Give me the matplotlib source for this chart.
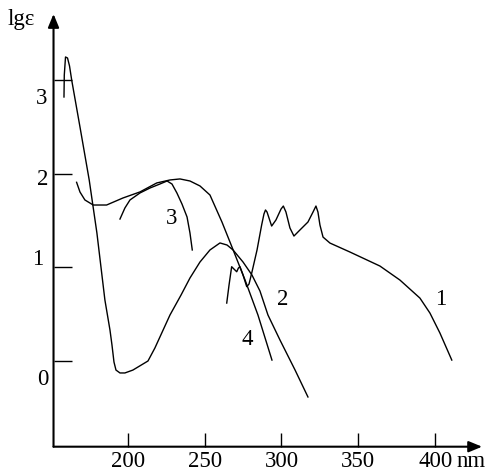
import numpy as np
import matplotlib.pyplot as plt

plt.rcParams['font.family'] = ['Liberation Serif', 'DejaVu Serif']

# curve 1: fine structure band, runs out to ~410 nm
c1_nm = [264.4, 265.9, 267.6, 269.1, 270.9, 272.0, 273.0, 275.0, 277.4, 278.9,
         280.8, 284.1, 287.1, 288.6, 289.6, 290.6, 293.6, 296.4, 299.7, 301.2,
         302.9, 305.5, 308.1, 312.0, 317.2, 320.5, 322.4, 323.7, 325.0, 327.0,
         331.5, 344.5, 364.0, 377.0, 390.0, 396.5, 403.0, 410.7]
c1_lg = [0.617, 0.810, 1.006, 0.981, 0.952, 0.992, 1.006, 0.917, 0.792, 0.821,
         0.949, 1.185, 1.452, 1.570, 1.613, 1.591, 1.441, 1.506, 1.623, 1.655,
         1.591, 1.420, 1.334, 1.399, 1.484, 1.591, 1.655, 1.591, 1.452, 1.323,
         1.259, 1.163, 1.013, 0.863, 0.670, 0.510, 0.296, 0.007]

# curve 2: strong far-UV peak, deep minimum, broad hump
c2_nm = [158.6, 158.8, 159.6, 160.9, 162.2, 163.6, 169.0, 175.0, 180.0, 185.2,
         188.5, 189.8, 191.1, 192.4, 195.0, 198.2, 203.4, 213.2, 217.7, 227.5,
         234.7, 240.5, 247.0, 253.5, 260.0, 264.6, 268.5, 275.0, 280.8, 286.0,
         291.2, 299.0, 308.8, 317.2]
c2_lg = [2.822, 3.057, 3.250, 3.239, 3.154, 3.004, 2.501, 1.934, 1.367, 0.650,
         0.328, 0.168, -0.014, -0.100, -0.131, -0.131, -0.100, -0.003, 0.136, 0.489,
         0.703, 0.885, 1.056, 1.185, 1.260, 1.238, 1.185, 1.056, 0.917, 0.746,
         0.489, 0.222, -0.099, -0.388]

# curve 3
c3_nm = [195.0, 198.2, 201.5, 208.0, 214.5, 221.0, 225.6, 228.8, 232.0, 235.3,
         238.6, 240.5, 242.0]
c3_lg = [1.516, 1.634, 1.720, 1.795, 1.848, 1.891, 1.923, 1.891, 1.795, 1.677,
         1.538, 1.367, 1.185]

# curve 4
c4_nm = [166.8, 169.0, 172.2, 177.6, 186.3, 196.9, 208.0, 218.9, 227.5, 234.0,
         240.5, 247.0, 253.5, 261.3, 267.8, 276.3, 284.7, 293.8]
c4_lg = [1.909, 1.805, 1.720, 1.666, 1.666, 1.741, 1.806, 1.902, 1.934, 1.945,
         1.923, 1.870, 1.773, 1.484, 1.217, 0.864, 0.489, 0.007]

x_ticks = [200, 250, 300, 350, 400]
y_ticks = [0, 1, 2, 3]

fig = plt.figure(figsize=(4.87, 4.71), dpi=100)
ax = fig.add_axes([0.1099, 0.0516, 0.880, 0.9187])
ax.set_xlim(151.8, 430.4)
ax.set_ylim(-0.92, 3.71)
for s in ax.spines.values():
    s.set_visible(False)

for nm, lg in [(c1_nm, c1_lg), (c2_nm, c2_lg), (c3_nm, c3_lg), (c4_nm, c4_lg)]:
    ax.plot(nm, lg, color='k', lw=1.0, clip_on=False)

# axes with arrow heads
arr = dict(arrowstyle='-|>,head_length=0.8,head_width=0.33', color='k',
           lw=1.5, shrinkA=0, shrinkB=0, mutation_scale=10)
ax.annotate('', xy=(1, 0), xytext=(0, 0), xycoords='axes fraction',
            arrowprops=arr, annotation_clip=False)
ax.annotate('', xy=(0, 1), xytext=(0, 0), xycoords='axes fraction',
            arrowprops=arr, annotation_clip=False)

ax.set_xticks(x_ticks)
ax.set_xticklabels([str(v) for v in x_ticks])
ax.tick_params(axis='x', direction='in', length=10, width=1.0,
               labelsize=16.5, pad=3.2)
ax.set_yticks(y_ticks)
ax.set_yticklabels([])
ax.tick_params(axis='y', direction='in', length=12.7, width=1.0)

# y numbers sit a bit off their ticks in the original drawing
for v, xx, yy in zip(y_ticks, [144.6, 141.7, 144.6, 144.3],
                     [-0.26, 1.024, 1.881, 2.745]):
    ax.text(xx, yy, str(v), ha='center', va='baseline', fontsize=16.5,
            clip_on=False)

# curve numbers
for lab, xx, yy in [('1', 403.7, 0.596), ('2', 301.0, 0.596),
                    ('3', 228.5, 1.463), ('4', 277.9, 0.168)]:
    ax.text(xx, yy, lab, ha='center', va='baseline', fontsize=16.5)

fig.text(21 / 487, 1 - 20 / 471, 'lgε', ha='center', va='center', fontsize=16.5)
fig.text(457 / 487, 1 - 466.7 / 471, 'nm', ha='left', va='baseline', fontsize=16.5)

fig.savefig('out.png', dpi=100)
